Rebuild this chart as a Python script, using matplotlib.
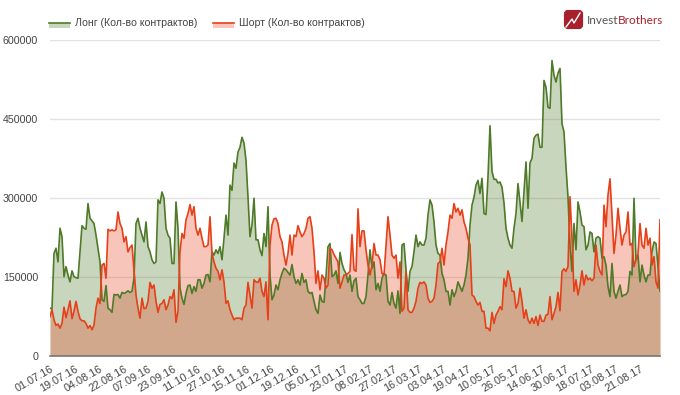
import matplotlib
matplotlib.use("Agg")
import matplotlib.pyplot as plt
import numpy as np
from matplotlib.legend_handler import HandlerBase
from matplotlib.lines import Line2D
from matplotlib.patches import FancyBboxPatch, Patch, Rectangle

# contracts, thousands
long_k = [
    90, 89, 194, 204, 178, 242, 226, 150, 169, 153, 140, 161, 150, 148, 147, 197, 247, 242, 240, 289,
    261, 256, 251, 229, 204, 178, 106, 103, 133, 90, 87, 82, 116, 115, 116, 109, 120, 118, 120, 123,
    120, 122, 147, 251, 261, 242, 229, 216, 254, 207, 197, 182, 175, 178, 296, 289, 311, 299, 242, 229,
    223, 175, 175, 292, 242, 128, 109, 97, 118, 133, 134, 118, 131, 122, 144, 144, 128, 137, 153, 154,
    140, 197, 191, 201, 194, 207, 182, 223, 267, 229, 324, 314, 366, 356, 387, 396, 415, 404, 371, 301,
    226, 248, 299, 220, 220, 201, 190, 232, 207, 283, 153, 106, 115, 134, 125, 144, 156, 166, 163, 158,
    153, 173, 150, 137, 144, 134, 156, 139, 144, 122, 118, 120, 103, 87, 80, 115, 103, 101, 150, 207,
    213, 150, 153, 161, 137, 196, 175, 163, 156, 139, 153, 122, 142, 147, 112, 106, 99, 99, 112, 153,
    201, 166, 178, 125, 137, 122, 147, 156, 153, 103, 96, 120, 99, 90, 123, 80, 210, 213, 163, 122,
    160, 169, 197, 229, 207, 216, 210, 210, 223, 267, 296, 286, 254, 210, 194, 191, 156, 144, 122, 122,
    96, 125, 112, 122, 140, 131, 122, 134, 153, 185, 248, 286,
    301, 324, 333, 308, 337, 270, 268, 340, 437, 350, 335, 335, 328, 330, 320, 290,
    242, 223, 210, 204, 242, 270, 327, 290, 255, 310, 368, 280, 366, 375, 413, 419, 421, 396, 396,
    523, 510, 472, 470, 561, 533, 520, 537, 546, 441, 425, 358, 301,
    210, 160, 251, 201, 292, 273, 248, 245, 201, 210, 235, 232, 197, 223, 226, 223, 185, 188, 172, 131,
    112, 175, 122, 109, 122, 134, 112, 115, 116, 122, 160, 153, 299, 182, 191, 140, 172, 153, 140, 153,
    153, 197, 216, 213, 170, 122,
]
short_k = [
    74, 87, 68, 57, 60, 52, 61, 92, 72, 87, 104, 70, 84, 103, 84, 70, 66, 66, 61, 52,
    57, 49, 58, 90, 109, 99, 172, 175, 147, 240, 237, 239, 237, 239, 273, 251, 242, 216, 226, 197,
    205, 210, 163, 115, 90, 71, 109, 89, 90, 103, 139, 128, 134, 103, 82, 97, 99, 106, 87, 96,
    112, 108, 125, 63, 84, 197, 232, 223, 258, 270, 287, 267, 283, 242, 229, 242, 223, 207, 207, 210,
    264, 194, 178, 166, 160, 144, 163, 140, 99, 104, 87, 77, 68, 71, 71,
    71, 68, 90, 96, 139, 115, 90, 144, 140, 139, 147, 122, 112, 140, 68, 210, 248, 260, 261, 251, 226,
    216, 191, 172, 194, 229, 191, 229, 226, 247, 235, 226, 232, 242, 261, 264, 242, 197, 137, 161, 125,
    153, 147, 128, 134, 204, 201, 192, 185, 178, 128, 140, 153, 153, 156, 160, 230, 163, 160, 279, 207,
    237, 237, 201, 172, 153, 172, 213, 191, 191, 182, 156, 153, 210, 264, 229, 191, 185, 191, 147, 178,
    84, 90, 160, 87, 82, 82, 90, 103, 128, 139, 137, 140, 134, 109, 101, 103, 109, 134, 175, 178,
    204, 172, 210, 235, 267, 261, 289, 273, 280, 267, 277, 254, 242, 223, 210,
    115, 112, 103, 96, 101, 84, 84, 52, 52, 47, 82, 61, 77, 84, 93, 87, 146, 131, 161, 147,
    122, 122, 90, 99, 128, 103, 71, 87, 68, 61, 71, 61, 74, 57, 77, 65, 65, 77, 78, 112,
    68, 80, 93, 120, 85, 160, 165, 160, 169, 302, 223, 122, 144, 115, 134, 161, 134, 153, 144, 147,
    142, 147, 210, 172, 160, 153, 286, 245, 305, 336, 267, 194, 229, 280, 242, 210, 229, 235, 273, 210,
    213, 169, 182, 194, 251, 210, 204, 242, 210, 223, 172, 188, 140, 128, 258,
]
tick_labels = [
    "01.07.16", "19.07.16", "04.08.16", "22.08.16", "07.09.16", "23.09.16", "11.10.16", "27.10.16",
    "15.11.16", "01.12.16", "19.12.16", "05.01.17", "23.01.17", "08.02.17", "27.02.17", "16.03.17",
    "03.04.17", "19.04.17", "10.05.17", "26.05.17", "14.06.17", "30.06.17", "18.07.17", "03.08.17",
    "21.08.17",
]
y_ticks = [0, 150000, 300000, 450000, 600000]
long_name = "Лонг (Кол-во контрактов)"
short_name = "Шорт (Кол-во контрактов)"

GREEN = "#4f7a28"
RED = "#e6401a"
TEXT = "#444444"

plt.rcParams["font.family"] = ["Liberation Sans", "DejaVu Sans"]


class BandHandler(HandlerBase):
    # line with a pale band hanging under it
    def create_artists(self, legend, orig, x0, y0, width, height, fontsize, trans):
        c = orig.get_edgecolor()
        band = Rectangle((x0, y0 - 1), width, height * 0.65, fc=c, alpha=0.3, lw=0, transform=trans)
        line = Line2D([x0, x0 + width], [y0 - 1 + height * 0.65] * 2, color=c, lw=1.2, transform=trans)
        return [band, line]


long_v = np.array(long_k) * 1000
short_v = np.array(short_k) * 1000

fig = plt.figure(figsize=(6.8, 3.95), dpi=100)
ax = fig.add_axes([50 / 680, 39.5 / 395, 610 / 680, 315.5 / 395])

x_long = np.arange(len(long_v))
x_short = np.arange(len(short_v))
ax.fill_between(x_long, long_v, color=GREEN, alpha=0.3, lw=0)
ax.fill_between(x_short, short_v, color=RED, alpha=0.3, lw=0)
ax.plot(x_long, long_v, color=GREEN, lw=1.2)
ax.plot(x_short, short_v, color=RED, lw=1.2)

ax.set_xlim(0, max(len(long_v), len(short_v)) - 1)
ax.set_ylim(0, 600000)
ax.set_yticks(y_ticks)
ax.set_xticks(np.arange(len(tick_labels)) * 12.3)
ax.set_xticklabels(tick_labels, rotation=30, ha="right", rotation_mode="anchor", fontsize=7.8, color=TEXT)
ax.tick_params(axis="x", length=0, pad=6)
ax.tick_params(axis="y", length=0, pad=8.5, labelsize=7.7, labelcolor=TEXT)
ax.grid(axis="y", color="#e2e2e2", lw=1)
ax.set_axisbelow(True)
for s in ["top", "right", "left"]:
    ax.spines[s].set_visible(False)
ax.spines["bottom"].set_color("#777777")
ax.spines["bottom"].set_linewidth(1.2)

handles = [Patch(edgecolor=GREEN), Patch(edgecolor=RED)]
fig.legend(handles, [long_name, short_name], ncol=2, frameon=False, loc="upper left",
           bbox_to_anchor=(39 / 680, 1 - 9 / 395), fontsize=7.6, labelcolor=TEXT,
           handler_map={Patch: BandHandler()},
           handlelength=2.0, handletextpad=0.5, columnspacing=1.5)

# logo
logo_ax = fig.add_axes([0, 0, 1, 1], facecolor="none")
logo_ax.set_xlim(0, 680)
logo_ax.set_ylim(395, 0)
logo_ax.axis("off")
logo_ax.add_patch(FancyBboxPatch((566, 12), 15, 15, boxstyle="round,pad=0,rounding_size=2",
                                 fc="#a81f2d", ec="#a81f2d", lw=3))
logo_ax.plot([566, 572, 574, 580], [27, 19, 23, 13], color="white", lw=1)
logo_ax.text(587, 20, "Invest", color="#555555", fontsize=8.5, va="center", family="Lato")
logo_ax.text(618, 20, "Brothers", color="#a81f2d", fontsize=8.5, va="center", family="Lato")

fig.savefig("out.png", dpi=100)
